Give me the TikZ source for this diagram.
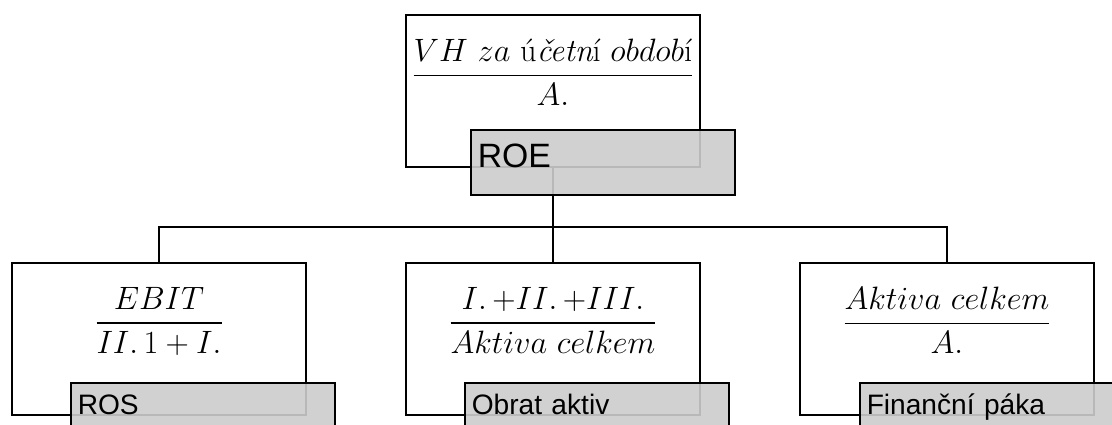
\RequirePackage{fix-cm}
\documentclass[tikz,border=0pt]{standalone}
\usepackage{amsmath}
\usepackage{fontspec}
\setsansfont{Liberation Sans}
\usetikzlibrary{positioning}
\newcommand{\ratio}[2]{$\dfrac{#1}{#2}$}

\begin{document}
\begin{tikzpicture}[x=0.025cm, y=-0.025cm, line width=1.4pt,
  frmbox/.style={draw, fill=white, minimum width=7.35cm, minimum height=3.8cm},
  frmtxt/.style={inner sep=0pt, font=\fontsize{23}{27}\selectfont},
  lblbox/.style={draw, fill=black!20, fill opacity=0.9, text opacity=1, anchor=north west,
    minimum width=6.6cm, minimum height=1.3cm, inner xsep=0.17cm, text width=6.26cm,
    align=left, text height=0.72em, text depth=0pt, font=\sffamily\fontsize{20}{24}\selectfont}]
\useasboundingbox (0,0) rectangle (1112,425);
\clip (0,0) rectangle (1112,425);
\node (roeFrm) [frmbox] at (553,91) {};
\node (rosFrm) [frmbox] at (159,339) {};
\node (obratFrm) [frmbox] at (553,339) {};
\node (pakaFrm) [frmbox] at (947,339) {};
\node (roeEq) [frmtxt, below=0.6cm of roeFrm.north]
  {\ratio{VH\ za\ \text{ú}\text{\itshape četn}\text{í}\ obdob\text{í}}{A.}};
\node (rosEq) [frmtxt, below=0.6cm of rosFrm.north] {\ratio{EBIT}{II.\,1+I.}};
\node (obratEq) [frmtxt, below=0.6cm of obratFrm.north]
  {\ratio{I.\,{+}II.\,{+}III.}{Aktiva\ celkem}};
\node (pakaEq) [frmtxt, below=0.6cm of pakaFrm.north] {\ratio{Aktiva\ celkem}{A.}};
\coordinate (split) at (553,227);
\draw (roeFrm.south) -- (split) -| (rosFrm.north);
\draw (split) -- (obratFrm.north);
\draw (split) -| (pakaFrm.north);
\node (roe) [lblbox, minimum height=1.625cm, font=\sffamily\fontsize{24}{28}\selectfont]
  at (470,129) {ROE};
\node (ros) [lblbox] at (70,382) {ROS};
\node (obrat) [lblbox] at (464,382) {Obrat aktiv};
\node (paka) [lblbox] at (859,382) {Finanční páka};
\end{tikzpicture}
\end{document}
